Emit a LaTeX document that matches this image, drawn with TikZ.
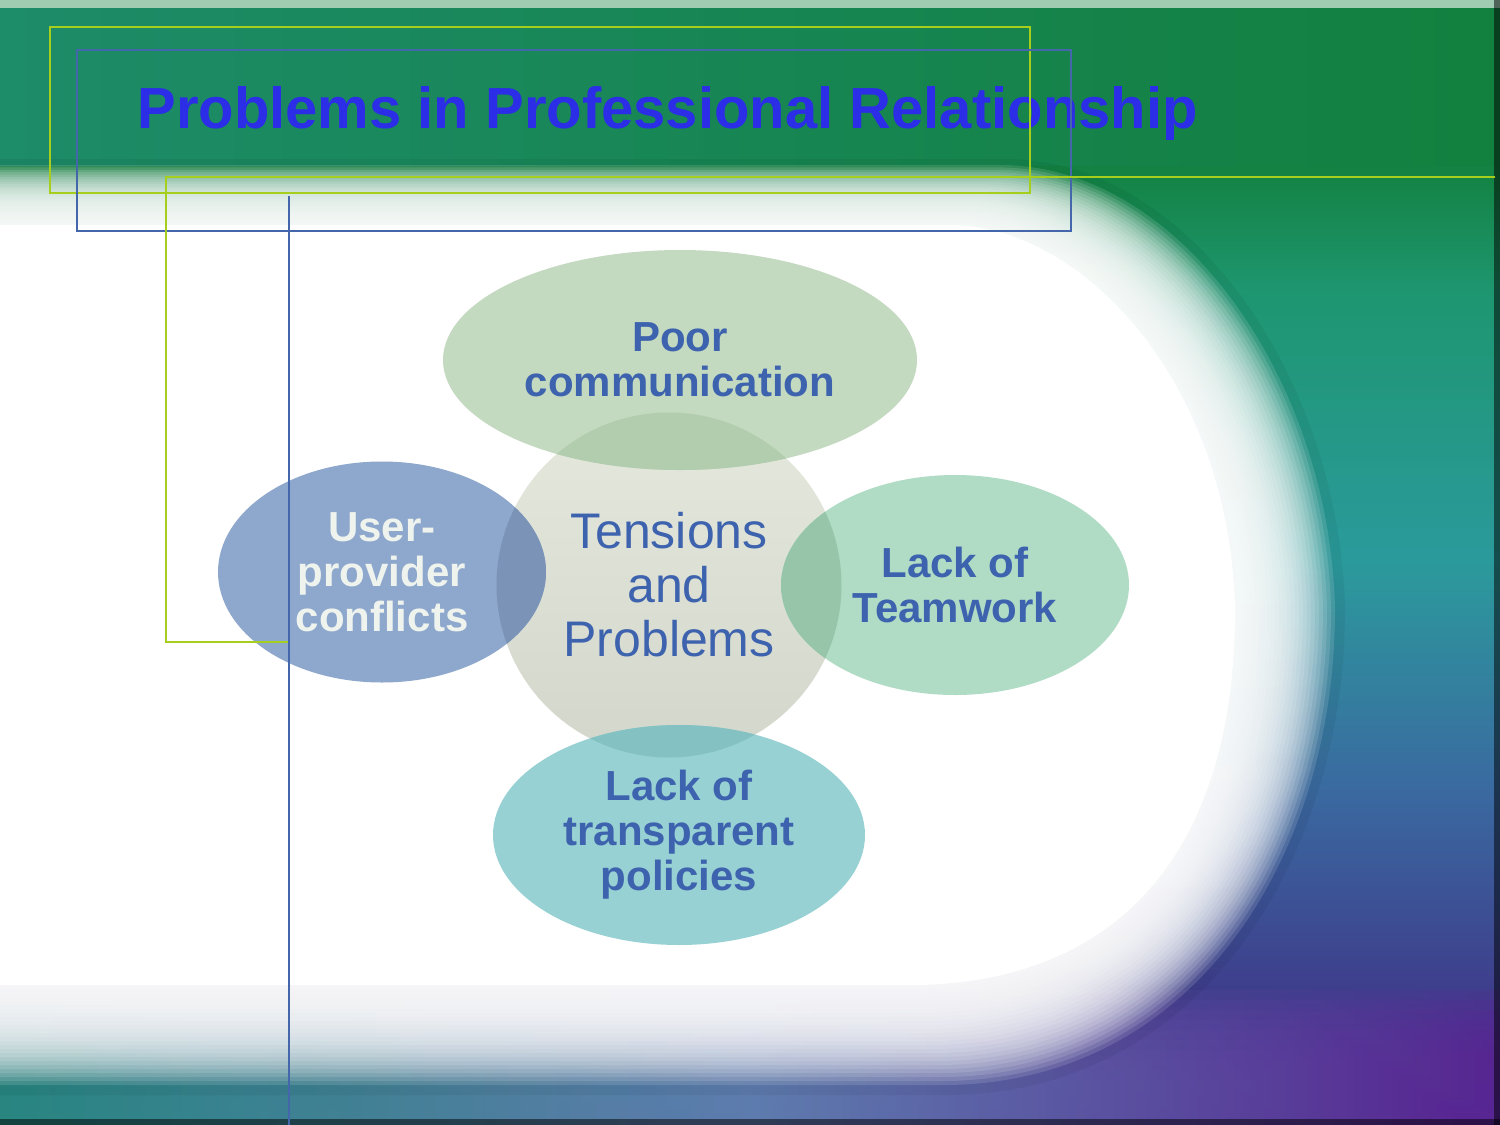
\documentclass[tikz,border=0pt]{standalone}
\usepackage{fontspec}
\setmainfont{Liberation Sans}
\usetikzlibrary{shapes.geometric}

\definecolor{titleblue}{HTML}{2B2EE6}
\definecolor{labelblue}{HTML}{3D62AE}
\definecolor{paletext}{HTML}{EEF3EE}
\definecolor{framegreen}{HTML}{A6CE1C}
\definecolor{frameblue}{HTML}{4466AA}
\definecolor{hubtop}{HTML}{E5E9DD}
\definecolor{hubbot}{HTML}{D3D6CA}
\definecolor{topfill}{HTML}{C3D9C0}
\definecolor{topover}{HTML}{B2CCAE}
\definecolor{leftfill}{HTML}{8EA7CC}
\definecolor{leftover}{HTML}{7A93B6}
\definecolor{rightfill}{HTML}{B0DCC6}
\definecolor{rightover}{HTML}{96C5AA}
\definecolor{botfill}{HTML}{98D1D3}
\definecolor{botover}{HTML}{84C1C3}
\definecolor{bggreen}{HTML}{12803E}
\definecolor{bgjade}{HTML}{1E9670}
\definecolor{bgteal}{HTML}{2B9A9C}
\definecolor{bgblue}{HTML}{3A6AA0}
\definecolor{bgindigo}{HTML}{3E3E8C}
\definecolor{bgpurple}{HTML}{5A2494}

\pgfdeclareverticalshading{slidebg}{100bp}{color(0bp)=(bgpurple); color(25bp)=(bgpurple);
  color(31bp)=(bgindigo); color(40bp)=(bgblue); color(50bp)=(bgteal); color(62bp)=(bgjade);
  color(68bp)=(bggreen); color(75bp)=(bggreen); color(100bp)=(bggreen)}

% white area of the slide, #1 = inset
\newcommand\blobfill[2]{\fill[#2] (-200,{165+0.6*#1}) -- ({1000-0.5*#1},{165+0.6*#1})
  .. controls ({1180-#1},{165+0.6*#1}) and ({1330-#1},380) .. ({1335-#1},610)
  .. controls ({1335-#1},850) and ({1200-0.8*#1},{1080-#1}) .. ({950-0.3*#1},{1085-#1})
  -- (-200,{1085-#1}) -- cycle;}

\begin{document}
\begin{tikzpicture}[x=0.5pt, y=-0.5pt]
  \tikzset{petal/.style={ellipse, inner sep=0pt, align=center, text=labelblue,
      font=\fontsize{21}{22.5}\selectfont\bfseries},
    hub/.style={circle, inner sep=0pt, align=center, text=labelblue,
      font=\fontsize{25}{27}\selectfont, top color=hubtop, bottom color=hubbot},
    frame/.style={line width=1pt}}
  \useasboundingbox (0,0) rectangle (1500,1125);
  \clip (0,0) rectangle (1500,1125);

  % background
  \shade[shading=slidebg] (0,0) rectangle (1500,1125);
  \foreach \t in {990,1000,...,1080}
    \shade[left color=bgteal!70!bggreen, right color=bgpurple, middle color=bgblue!80!white,
      opacity=.2] (0,\t) rectangle (1500,1125);
  \shade[left color=bggreen!55!bgteal, middle color=green!45!black!85!white, right color=bggreen]
    (0,8) rectangle (1500,165);
  \fill[bggreen!40!white] (0,0) rectangle (1500,8);
  \blobfill{-10}{black, opacity=.05}
  \foreach \d in {0,4,...,96} {\blobfill{\d}{white, opacity=.13}}
  \blobfill{100}{white}
  \fill[black, opacity=.5] (1494,0) rectangle (1500,1125);
  \fill[black, opacity=.5] (0,1119) rectangle (1500,1125);

  % diagram
  \node[hub, minimum size=172.5pt] (hub) at (669,585) {Tensions\\and\\Problems};
  \node[petal, minimum width=237pt, minimum height=110pt, fill=topfill] (poor) at (680,360)
    {Poor\\communication};
  \node[petal, minimum width=164pt, minimum height=110.5pt, fill=leftfill, text=paletext] (user)
    at (382,572) {User-\\provider\\conflicts};
  \node[petal, minimum width=174pt, minimum height=110pt, fill=rightfill] (team) at (955,585)
    {Lack of\\Teamwork};
  \node[petal, minimum width=186pt, minimum height=110pt, fill=botfill] (policy) at (679,835)
    {Lack of\\transparent\\policies};
  \begin{scope}
    \clip (hub.center) circle [radius=86.25pt];
    \fill[topover] (poor.center) ellipse [x radius=118.5pt, y radius=55pt];
    \fill[leftover] (user.center) ellipse [x radius=82pt, y radius=55.25pt];
    \fill[rightover] (team.center) ellipse [x radius=87pt, y radius=55pt];
    \fill[botover] (policy.center) ellipse [x radius=93pt, y radius=55pt];
  \end{scope}

  \node[anchor=base west, inner sep=0pt, text=titleblue, font=\fontsize{29}{34}\selectfont\bfseries]
    (title) at (137,128) {Problems in Professional Relationship};

  % frames
  \draw[frame, framegreen] (50,27) rectangle (1030,193);
  \draw[frame, frameblue] (77,50) rectangle (1071,231);
  \draw[frame, framegreen] (1495,177) -- (166,177) -- (166,642) -- (289,642);
  \draw[frame, frameblue] (289,196) -- (289,1125);
\end{tikzpicture}
\end{document}
